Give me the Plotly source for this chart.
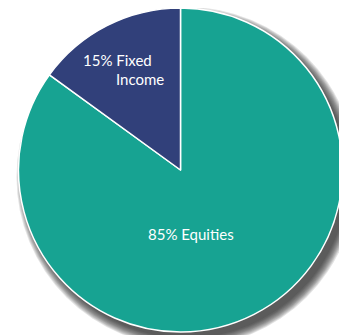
import plotly.graph_objects as go

# data
labels = ["Equities", "Fixed Income"]
values = [85, 15]
colors = ["#17a392", "#31407a"]

W, H = 347, 335
OFF = 8  # default page margin around the plot div
cx, cy, r = 180.5 - OFF, 170 - OFF, 162  # pie centre / radius in px


def px_x(x):
    return (x - OFF) / W


def px_y(y):
    return 1 - (y - OFF) / H


fig = go.Figure(go.Pie(
    labels=labels,
    values=values,
    sort=False,
    direction="clockwise",
    rotation=0,
    marker=dict(colors=colors, line=dict(color="white", width=1.5)),
    textinfo="none",
    hoverinfo="label+percent",
    domain=dict(x=[(cx - r) / W, (cx + r) / W], y=[1 - (cy + r) / H, 1 - (cy - r) / H]),
    showlegend=False,
))

# soft drop shadow towards bottom-right
shapes = []
for i in range(10):
    rr = r + 8 - i
    ox, oy = cx + 6, cy + 7
    shapes.append(dict(
        type="circle", xref="paper", yref="paper", layer="below",
        x0=(ox - rr) / W, x1=(ox + rr) / W,
        y0=1 - (oy + rr) / H, y1=1 - (oy - rr) / H,
        fillcolor="rgba(40,40,40,0.13)", line=dict(width=0),
    ))

fixed_word, income_word = labels[1].split()
font = dict(family="Lato, 'Open Sans', sans-serif", size=15, color="white")
annotations = [
    dict(text=f"{values[1]}% {fixed_word}", x=px_x(117), y=px_y(60)),
    dict(text=income_word, x=px_x(140), y=px_y(79)),
    dict(text=f"{values[0]}% {labels[0]}", x=px_x(191), y=px_y(234)),
]
for a in annotations:
    a.update(xref="paper", yref="paper", showarrow=False, font=font,
             xanchor="center", yanchor="middle")

fig.update_layout(
    width=W, height=H,
    margin=dict(l=0, r=0, t=0, b=0),
    paper_bgcolor="white",
    plot_bgcolor="white",
    shapes=shapes,
    annotations=annotations,
)

fig.write_html("out.html")
